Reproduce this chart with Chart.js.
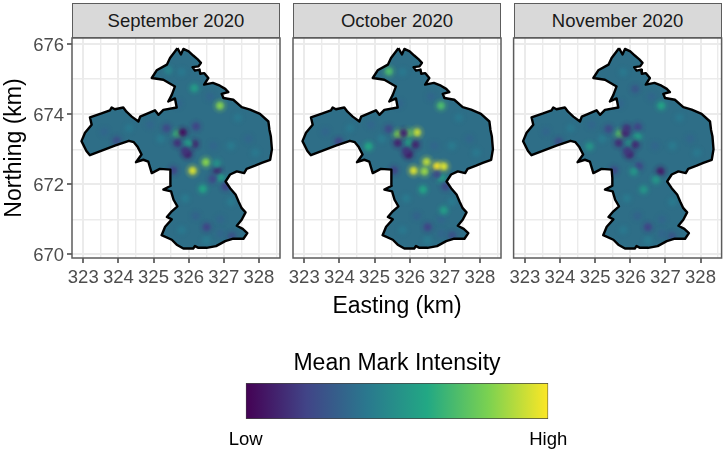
<!DOCTYPE html>
<html>
<head>
<meta charset="utf-8">
<style>
    html, body { margin: 0; padding: 0; background: #fff; width: 725px; height: 451px; overflow: hidden; }
    canvas { position: absolute; }
    .strip {
        position: absolute; top: 3px; height: 35px; box-sizing: border-box;
        background: #d9d9d9; border: 1.5px solid #5c5c5c; color: #1a1a1a;
        font: 18.5px "Liberation Sans", Arial, sans-serif; line-height: 34px; text-align: center;
    }
</style>
<script src="https://cdn.jsdelivr.net/npm/chart.js@4/dist/chart.umd.min.js"></script>
</head>
<body>
<script>
const months = ["September 2020", "October 2020", "November 2020"];
const xGrid = [323, 323.5, 324, 324.5, 325, 325.5, 326, 326.5, 327, 327.5, 328, 328.5];
const yGrid = [670, 671, 672, 673, 674, 675, 676];

// outline of the area, easting / northing in km
const boundary = [
    [325.68, 675.88], [325.78, 675.70], [325.85, 675.86], [326.0, 675.79], [326.13, 675.67], [326.25, 675.57],
    [326.35, 675.46], [326.28, 675.36], [326.11, 675.34], [326.18, 675.24], [326.31, 675.27], [326.33, 675.15],
    [326.44, 675.17], [326.56, 675.03], [326.44, 674.84], [326.69, 674.89], [326.89, 674.81], [327.04, 674.72],
    [327.13, 674.63], [326.94, 674.58], [326.99, 674.46], [327.27, 674.41], [327.51, 674.20], [327.75, 674.13],
    [328.03, 674.01], [328.27, 673.79], [328.30, 673.55], [328.34, 673.36], [328.37, 673.0], [328.32, 672.70],
    [328.08, 672.61], [327.89, 672.53], [327.65, 672.44], [327.58, 672.32], [327.37, 672.37], [327.18, 672.28],
    [327.05, 672.08], [327.18, 671.89], [327.34, 671.70], [327.42, 671.51], [327.51, 671.32], [327.62, 671.20],
    [327.51, 670.99], [327.37, 670.82], [327.54, 670.73], [327.67, 670.61], [327.56, 670.45], [327.27, 670.45],
    [327.04, 670.38], [326.78, 670.24], [326.51, 670.19], [326.28, 670.19], [326.18, 670.24], [326.13, 670.17],
    [325.85, 670.17], [325.66, 670.28], [325.52, 670.42], [325.23, 670.55], [325.33, 670.79], [325.52, 671.0],
    [325.38, 671.07], [325.52, 671.23], [325.68, 671.37], [325.57, 671.56], [325.50, 671.80], [325.28, 671.85],
    [325.49, 671.96], [325.49, 672.18], [325.47, 672.42], [325.18, 672.44], [324.95, 672.32], [324.85, 672.65],
    [324.71, 672.70], [324.50, 672.63], [324.66, 672.85], [324.54, 673.08], [324.44, 673.20], [324.30, 673.24],
    [323.90, 673.10], [323.19, 672.83], [323.09, 672.95], [322.95, 673.23], [323.05, 673.47], [323.24, 673.70],
    [323.19, 673.91], [323.52, 674.02], [323.76, 674.11], [323.81, 674.19], [323.90, 674.14], [324.14, 674.19],
    [324.23, 674.07], [324.38, 673.93], [324.57, 673.79], [324.62, 673.93], [325.04, 674.11], [325.14, 673.98],
    [325.28, 674.12], [325.66, 674.19], [325.61, 674.45], [325.42, 674.36], [325.52, 674.55], [325.61, 674.79],
    [325.28, 674.98], [324.95, 675.03], [325.09, 675.25], [325.38, 675.41], [325.47, 675.60], [325.68, 675.88]
];

// easting, northing, intensity on the 0 (low) .. 1 (high) colour bar
const faintSpots = [
    [323.6, 673.5, .33], [324.3, 673.6, .4], [324.9, 673.7, .33], [325.2, 673.3, .41], [325.7, 674.3, .33],
    [325.8, 675.2, .4], [326.6, 674.5, .33], [327.4, 673.9, .4], [327.7, 673.3, .33], [327.2, 673.1, .41],
    [327.9, 672.9, .4], [326.7, 673.1, .33], [325.9, 671.6, .41], [326.2, 671.1, .32], [325.8, 670.7, .4],
    [326.9, 671.0, .33], [327.2, 671.5, .41], [326.5, 670.4, .41], [326.9, 670.6, .33]
];
const septemberSpots = [
    [326.89, 674.24, .82], [326.16, 674.74, .55], [325.42, 675.25, .45], [325.68, 673.44, .66], [325.83, 673.48, .04],
    [326.21, 673.65, .2], [325.37, 673.6, .22], [325.68, 673.18, .14], [326.16, 673.15, .1], [325.99, 673.16, .55],
    [323.95, 673.25, .24], [325.97, 672.86, .08], [325.9, 672.95, .15], [326.49, 672.63, .82], [326.11, 672.39, .95],
    [326.82, 672.39, .1], [326.91, 672.18, .55], [326.68, 672.15, .22], [326.8, 672.59, .5], [326.4, 671.87, .58],
    [325.56, 672.4, .2], [327.05, 671.94, .2], [326.51, 670.78, .2], [327.23, 670.52, .25]
];
const octoberSpots = [
    [325.41, 675.22, .7], [326.89, 674.24, .7], [326.21, 673.48, .92], [325.97, 673.46, .75], [325.67, 673.43, .8],
    [325.83, 673.46, .1], [325.66, 673.18, .1], [326.0, 673.16, .6], [326.16, 673.13, .1], [325.4, 673.58, .22],
    [324.83, 673.08, .6], [323.98, 673.22, .2], [325.97, 672.85, .06], [325.9, 672.95, .15], [326.48, 672.64, .9],
    [326.11, 672.39, .95], [326.42, 672.37, .85], [326.78, 672.51, 1], [326.97, 672.51, .95], [326.9, 672.18, .6],
    [326.38, 671.85, .58], [326.97, 671.26, .55], [326.51, 670.78, .2], [325.55, 672.4, .2], [327.02, 671.94, .22],
    [327.21, 670.54, .25], [326.78, 672.28, .22]
];
const novemberSpots = [
    [326.88, 674.24, .58], [325.7, 673.44, .72], [325.86, 673.46, .1], [325.9, 673.6, .15], [326.21, 673.63, .2],
    [326.21, 673.35, .55], [325.38, 673.58, .22], [325.67, 673.18, .13], [326.0, 673.15, .55], [326.14, 673.13, .12],
    [324.84, 673.08, .52], [323.96, 673.22, .24], [326.14, 674.72, .27], [325.98, 672.85, .1], [325.91, 672.95, .16],
    [326.24, 672.51, .2], [326.1, 672.37, .52], [326.86, 672.37, .08], [326.73, 672.13, .52], [326.38, 671.85, .52],
    [326.5, 670.78, .2], [325.53, 672.4, .22], [327.19, 670.52, .27]
];
const monthSpots = [septemberSpots, octoberSpots, novemberSpots];

const viridisStops = ["#440154", "#414487", "#2A788E", "#22A884", "#7AD151", "#FDE725"];
const baseColour = "#2e6e87";

const FONT = "'Liberation Sans', Arial, sans-serif";
const panelLefts = [72, 293, 513.6];
const PANEL_W = 208, PANEL_TOP = 38, PANEL_BOTTOM = 258;

function hexToRgb(hex) {
    return [1, 3, 5].map((i) => parseInt(hex.slice(i, i + 2), 16));
}

function viridis(v) {
    const pos = Math.min(v, 0.9999) * (viridisStops.length - 1);
    const i = Math.floor(pos);
    const a = hexToRgb(viridisStops[i]);
    const b = hexToRgb(viridisStops[i + 1]);
    return a.map((c, k) => Math.round(c + (b[k] - c) * (pos - i)));
}

// soft round sprite, stands in for the smoothed raster cell
function spotSprite(v) {
    const r = 9;
    const c = document.createElement("canvas");
    c.width = c.height = r * 2;
    const g = c.getContext("2d");
    const [cr, cg, cb] = viridis(v);
    const grad = g.createRadialGradient(r, r, 0, r, r, r);
    grad.addColorStop(0, `rgba(${cr},${cg},${cb},1)`);
    grad.addColorStop(0.3, `rgba(${cr},${cg},${cb},0.7)`);
    grad.addColorStop(0.6, `rgba(${cr},${cg},${cb},0.2)`);
    grad.addColorStop(1, `rgba(${cr},${cg},${cb},0)`);
    g.fillStyle = grad;
    g.fillRect(0, 0, r * 2, r * 2);
    return c;
}

const panelBorder = {
    id: "panelBorder",
    afterDraw(chart) {
        const { ctx, chartArea: a } = chart;
        ctx.save();
        ctx.strokeStyle = "#5c5c5c";
        ctx.lineWidth = 1.5;
        ctx.strokeRect(a.left, a.top, a.right - a.left, a.bottom - a.top);
        ctx.restore();
    },
};

// keeps the blurred spots inside the outline
const clipSpots = {
    id: "clipSpots",
    beforeDatasetDraw(chart, args) {
        if (args.index !== 1) return;
        const { ctx, scales } = chart;
        ctx.save();
        ctx.beginPath();
        boundary.forEach(([x, y]) => ctx.lineTo(scales.x.getPixelForValue(x), scales.y.getPixelForValue(y)));
        ctx.closePath();
        ctx.clip();
    },
    afterDatasetDraw(chart, args) {
        if (args.index === 1) chart.ctx.restore();
    },
};

function addCanvas(left, top, width, height) {
    const canvas = document.createElement("canvas");
    canvas.width = width;
    canvas.height = height;
    canvas.style.left = left + "px";
    canvas.style.top = top + "px";
    document.body.appendChild(canvas);
    return canvas;
}

function createPanel(index) {
    const left = panelLefts[index];
    const yWidth = index === 0 ? 72 : 0;
    const xHeight = 62;
    return new Chart(addCanvas(0, 0, 725, 451), {
        type: "scatter",
        data: {
            datasets: [
                {
                    data: boundary.map(([x, y]) => ({ x, y })),
                    showLine: true,
                    fill: false,
                    borderColor: "#000",
                    borderWidth: 2.4,
                    borderJoinStyle: "round",
                    pointRadius: 0,
                    tension: 0,
                    order: 0,
                },
                {
                    data: faintSpots.concat(monthSpots[index]).map(([x, y, v]) => ({ x, y, v })),
                    showLine: false,
                    pointRadius: 9,
                    pointStyle: (ctx) => (ctx.raw ? spotSprite(ctx.raw.v) : "circle"),
                    order: 1,
                },
                {
                    data: boundary.map(([x, y]) => ({ x, y })),
                    showLine: true,
                    fill: "shape",
                    backgroundColor: baseColour,
                    borderWidth: 0,
                    pointRadius: 0,
                    tension: 0,
                    order: 2,
                },
            ],
        },
        options: {
            responsive: false,
            animation: false,
            events: [],
            layout: {
                autoPadding: false,
                padding: {
                    left: left - yWidth,
                    right: 725 - left - PANEL_W,
                    top: PANEL_TOP,
                    bottom: 451 - PANEL_BOTTOM - xHeight,
                },
            },
            plugins: { legend: { display: false }, tooltip: { enabled: false } },
            scales: {
                x: {
                    type: "linear",
                    min: 322.68,
                    max: 328.6,
                    afterBuildTicks: (scale) => {
                        scale.ticks = xGrid.map((value) => ({ value }));
                    },
                    afterFit: (scale) => {
                        scale.height = xHeight;
                    },
                    title: {
                        display: index === 1,
                        text: "Easting (km)",
                        color: "#000",
                        font: { family: FONT, size: 23 },
                        padding: 0,
                    },
                    border: { display: false },
                    grid: {
                        color: "#ebebeb",
                        lineWidth: (ctx) => (Number.isInteger(ctx.tick.value) ? 2 : 1.4),
                        tickLength: 5,
                        tickWidth: 1.4,
                        tickColor: (ctx) => (Number.isInteger(ctx.tick.value) && ctx.tick.value < 328.5 ? "#333" : "transparent"),
                    },
                    ticks: {
                        color: "#4d4d4d",
                        font: { family: FONT, size: 18.5 },
                        padding: 4,
                        maxRotation: 0,
                        autoSkip: false,
                        callback: (value) => (Number.isInteger(value) ? String(value) : ""),
                    },
                },
                y: {
                    type: "linear",
                    min: 669.9,
                    max: 676.17,
                    afterBuildTicks: (scale) => {
                        scale.ticks = yGrid.map((value) => ({ value }));
                    },
                    afterFit: (scale) => {
                        scale.width = yWidth;
                    },
                    title: {
                        display: index === 0,
                        text: "Northing (km)",
                        color: "#000",
                        font: { family: FONT, size: 23 },
                        padding: { top: 1, bottom: 0 },
                    },
                    border: { display: false },
                    grid: {
                        color: "#ebebeb",
                        lineWidth: (ctx) => (ctx.tick.value % 2 === 0 ? 2 : 1.4),
                        tickLength: index === 0 ? 5 : 0,
                        tickWidth: 1.4,
                        tickColor: (ctx) => (ctx.tick.value % 2 === 0 && index === 0 ? "#333" : "transparent"),
                    },
                    ticks: {
                        display: index === 0,
                        color: "#4d4d4d",
                        font: { family: FONT, size: 18.5 },
                        padding: 3,
                        labelOffset: 1.5,
                        autoSkip: false,
                        callback: (value) => (value % 2 === 0 ? String(value) : ""),
                    },
                },
            },
        },
        plugins: [panelBorder, clipSpots],
    });
}

function createColourBar() {
    const barScale = [0, 1];
    const barLabels = ["Low", "High"];
    return new Chart(addCanvas(196.75, 340, 400, 111), {
        type: "bar",
        data: {
            labels: ["intensity"],
            datasets: [
                {
                    data: [barScale],
                    barPercentage: 1,
                    categoryPercentage: 1,
                    borderColor: "#444",
                    borderWidth: 1,
                    borderSkipped: false,
                    backgroundColor: (ctx) => {
                        const area = ctx.chart.chartArea;
                        if (!area) return viridisStops[0];
                        const grad = ctx.chart.ctx.createLinearGradient(area.left, 0, area.right, 0);
                        viridisStops.forEach((c, i) => grad.addColorStop(i / (viridisStops.length - 1), c));
                        return grad;
                    },
                },
            ],
        },
        options: {
            indexAxis: "y",
            responsive: false,
            animation: false,
            events: [],
            layout: { autoPadding: false, padding: { left: 48.75, right: 48.75, top: 10, bottom: 0 } },
            plugins: {
                legend: { display: false },
                tooltip: { enabled: false },
                title: {
                    display: true,
                    text: "Mean Mark Intensity",
                    color: "#000",
                    font: { family: FONT, size: 23, weight: "normal" },
                    padding: { top: 0, bottom: 5.4 },
                },
            },
            scales: {
                x: {
                    type: "linear",
                    min: 0,
                    max: 1,
                    afterBuildTicks: (scale) => {
                        scale.ticks = barScale.map((value) => ({ value }));
                    },
                    afterFit: (scale) => {
                        scale.height = 32;
                    },
                    border: { display: false },
                    grid: { display: false },
                    ticks: {
                        color: "#000",
                        font: { family: FONT, size: 18.5 },
                        padding: 2,
                        maxRotation: 0,
                        autoSkip: false,
                        callback: (value) => barLabels[value],
                    },
                },
                y: { display: false },
            },
        },
    });
}

months.forEach((month, i) => {
    const strip = document.createElement("div");
    strip.className = "strip";
    strip.style.left = panelLefts[i] + "px";
    strip.style.width = PANEL_W + "px";
    strip.textContent = month;
    document.body.appendChild(strip);
    createPanel(i);
});
createColourBar();
</script>
</body>
</html>
